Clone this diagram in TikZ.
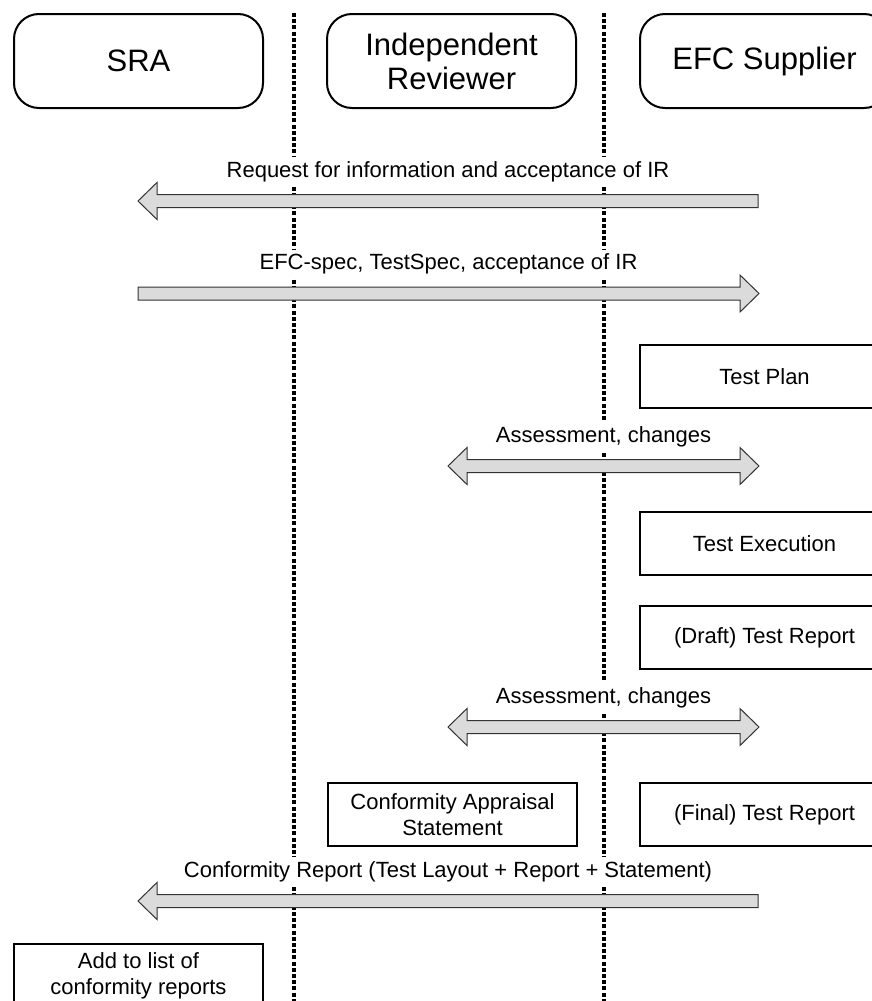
\documentclass[tikz,border=0pt]{standalone}
\usepackage{fontspec}
\setmainfont{Liberation Sans}
\usetikzlibrary{positioning,calc}

\definecolor{arrowfill}{gray}{0.86}
\definecolor{arrowline}{gray}{0.2}

\begin{document}
\begin{tikzpicture}
    [
      x=0.5pt, y=-0.5pt,
      lane/.style={draw, line width=1pt, rounded corners=12.5pt, minimum width=124.5pt, minimum height=47pt, align=center, font=\fontsize{15.5}{17}\selectfont},
      task/.style={draw, line width=1pt, minimum width=124.5pt, minimum height=31.5pt, align=center, font=\fontsize{11}{13}\selectfont},
      life line/.style={line width=1.6pt, dash pattern=on 2pt off 1.1pt},
      msg label/.style={fill=white, inner sep=2pt, anchor=base, yshift=12pt, font=\fontsize{11}{13}\selectfont},
      block arrow/.style={draw=arrowline, fill=arrowfill, line width=0.5pt,
        to path={let \p1=(\tikztostart), \p2=(\tikztotarget), \p3=($(\tikztotarget)!9.5pt!(\tikztostart)$) in
          (\x1,\y1+3.25pt) -- (\x3,\y1+3.25pt) -- (\x3,\y1+9.25pt) -- (\p2) -- (\x3,\y1-9.25pt) -- (\x3,\y1-3.25pt) -- (\x1,\y1-3.25pt) -- cycle}},
      double block arrow/.style={draw=arrowline, fill=arrowfill, line width=0.5pt,
        to path={let \p1=(\tikztostart), \p2=(\tikztotarget), \p3=($(\tikztotarget)!9.5pt!(\tikztostart)$), \p4=($(\tikztostart)!9.5pt!(\tikztotarget)$) in
          (\p1) -- (\x4,\y1+9.25pt) -- (\x4,\y1+3.25pt) -- (\x3,\y1+3.25pt) -- (\x3,\y1+9.25pt) -- (\p2) -- (\x3,\y1-9.25pt) -- (\x3,\y1-3.25pt) -- (\x4,\y1-3.25pt) -- (\x4,\y1-9.25pt) -- cycle}}
    ]
    \clip (0,0) rectangle (872,1001);

    % swim lanes
    \node (sra) [lane] at (138.5,61) {SRA};
    \node (ir) [lane, right=31pt of sra] {Independent\\Reviewer};
    \node (efc) [lane, right=31pt of ir] {EFC Supplier};

    \coordinate (div1 top) at (294,13);
    \coordinate (div1 bottom) at (294,1001);
    \coordinate (div2 top) at (604,13);
    \coordinate (div2 bottom) at (604,1001);
    \draw [life line] (div1 top) -- (div1 bottom);
    \draw [life line] (div2 top) -- (div2 bottom);

    % tasks
    \node (plan) [task, below=117.5pt of efc] {Test Plan};
    \node (exec) [task, below=51pt of plan] {Test Execution};
    \node (draft) [task, below=14.5pt of exec] {(Draft) Test Report};
    \node (final) [task, below=56pt of draft] {(Final) Test Report};
    \node (cas) [task, left=30.5pt of final] {Conformity Appraisal\\Statement};
    \node (add) [task, minimum height=32pt] at (138.5,976) {Add to list of\\conformity reports};

    % messages
    \coordinate (req a) at (758,201);
    \coordinate (req b) at (138,201);
    \node (req label) [msg label] at ($(req a)!.5!(req b)$) {Request for information and acceptance of IR};
    \draw [block arrow] (req a) to (req b);

    \coordinate (spec a) at (138,293.5);
    \coordinate (spec b) at (759,293.5);
    \node (spec label) [msg label] at ($(spec a)!.5!(spec b)$) {EFC-spec, TestSpec, acceptance of IR};
    \draw [block arrow] (spec a) to (spec b);

    \coordinate (ass1 a) at (448,466);
    \coordinate (ass1 b) at (759,466);
    \node (ass1 label) [msg label] at ($(ass1 a)!.5!(ass1 b)$) {Assessment, changes};
    \draw [double block arrow] (ass1 a) to (ass1 b);

    \coordinate (ass2 a) at (448,727);
    \coordinate (ass2 b) at (759,727);
    \node (ass2 label) [msg label] at ($(ass2 a)!.5!(ass2 b)$) {Assessment, changes};
    \draw [double block arrow] (ass2 a) to (ass2 b);

    \coordinate (rep a) at (758,901);
    \coordinate (rep b) at (138,901);
    \node (rep label) [msg label] at ($(rep a)!.5!(rep b)$) {Conformity Report (Test Layout + Report + Statement)};
    \draw [block arrow] (rep a) to (rep b);
  \end{tikzpicture}
\end{document}
